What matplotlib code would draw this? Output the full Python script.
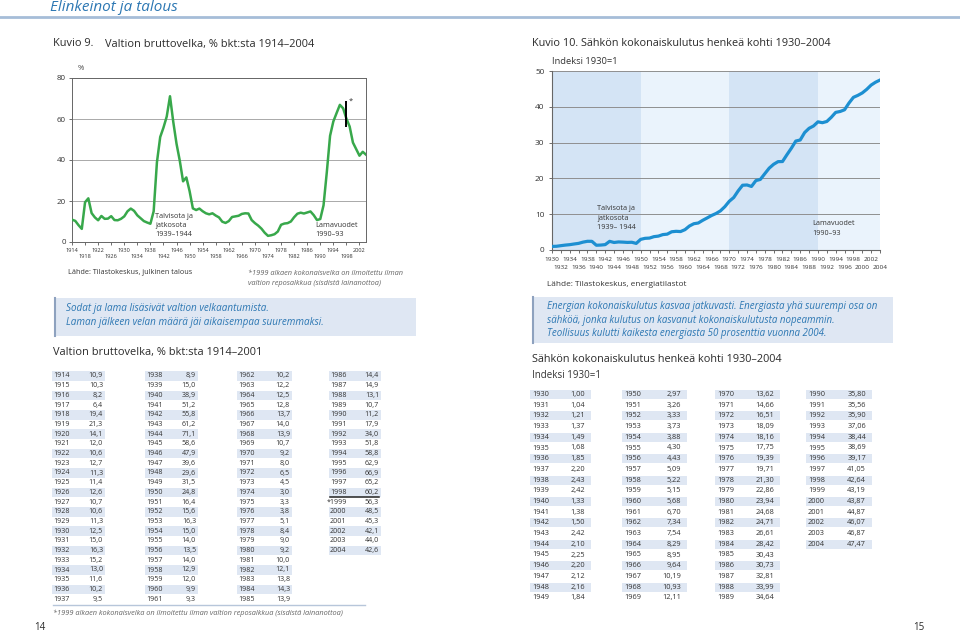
import matplotlib
matplotlib.use('Agg')
import matplotlib.pyplot as plt
from matplotlib.patches import Rectangle
from matplotlib.lines import Line2D

plt.rcParams['font.family'] = ['Open Sans', 'DejaVu Sans']

# ---------------- data ----------------
debt_years = list(range(1914, 2005))
debt_values = [10.9, 10.3, 8.2, 6.4, 19.4, 21.3, 14.1, 12.0, 10.6, 12.7, 11.3, 11.4,
               12.6, 10.7, 10.6, 11.3, 12.5, 15.0, 16.3, 15.2, 13.0, 11.6, 10.2, 9.5,
               8.9, 15.0, 38.9, 51.2, 55.8, 61.2, 71.1, 58.6, 47.9, 39.6, 29.6, 31.5,
               24.8, 16.4, 15.6, 16.3, 15.0, 14.0, 13.5, 14.0, 12.9, 12.0, 9.9, 9.3,
               10.2, 12.2, 12.5, 12.8, 13.7, 14.0, 13.9, 10.7, 9.2, 8.0, 6.5, 4.5,
               3.0, 3.3, 3.8, 5.1, 8.4, 9.0, 9.2, 10.0, 12.1, 13.8, 14.3, 13.9,
               14.4, 14.9, 13.1, 10.7, 11.2, 17.9, 34.0, 51.8, 58.8, 62.9, 66.9, 65.2,
               60.2, 56.3, 48.5, 45.3, 42.1, 44.0, 42.6]

elec_years = list(range(1930, 2005))
elec_values = [1.00, 1.04, 1.21, 1.37, 1.49, 1.68, 1.85, 2.20, 2.43, 2.42,
               1.33, 1.38, 1.50, 2.42, 2.10, 2.25, 2.20, 2.12, 2.16, 1.84,
               2.97, 3.26, 3.33, 3.73, 3.88, 4.30, 4.43, 5.09, 5.22, 5.15,
               5.68, 6.70, 7.34, 7.54, 8.29, 8.95, 9.64, 10.19, 10.93, 12.11,
               13.62, 14.66, 16.51, 18.09, 18.16, 17.75, 19.39, 19.71, 21.30, 22.86,
               23.94, 24.68, 24.71, 26.61, 28.42, 30.43, 30.73, 32.81, 33.99, 34.64,
               35.80, 35.56, 35.90, 37.06, 38.44, 38.69, 39.17, 41.05, 42.64, 43.19,
               43.87, 44.87, 46.07, 46.87, 47.47]

debt_xticks_row1 = list(range(1914, 2003, 8))
debt_xticks_row2 = list(range(1918, 2003, 8))
debt_yticks = [0, 20, 40, 60, 80]
elec_xticks_row1 = list(range(1930, 2003, 4))
elec_xticks_row2 = list(range(1932, 2005, 4))
elec_yticks = [0, 10, 20, 30, 40, 50]
elec_periods = [(1930, 1950), (1950, 1970), (1970, 1990), (1990, 2004)]
debt_break_year = 1998
debt_break_range = (56, 69)

debt_table_cols = [(1914, 1937), (1938, 1961), (1962, 1985), (1986, 2004)]
elec_table_cols = [(1930, 1949), (1950, 1969), (1970, 1989), (1990, 2004)]

# ---------------- helpers ----------------
W, H = 960, 633
fig = plt.figure(figsize=(9.6, 6.33), dpi=100)
fig.patch.set_facecolor('white')
renderer = fig.canvas.get_renderer()


def fx(x):
    return x / W


def fy(y):
    return 1 - y / H


def fit(s, target_px, **kw):
    """font size (pt) so that string s is target_px wide"""
    t = fig.text(0, 0, s, fontsize=10, **kw)
    w = t.get_window_extent(renderer).width
    t.remove()
    return 10 * target_px / w


def txt(x, y, s, **kw):
    kw.setdefault('va', 'center')
    kw.setdefault('ha', 'left')
    return fig.text(fx(x), fy(y), s, **kw)


def rect(x0, y0, x1, y1, **kw):
    fig.add_artist(Rectangle((fx(x0), fy(y1)), fx(x1) - fx(x0), fy(y0) - fy(y1),
                             transform=fig.transFigure, **kw))


def hline(x0, x1, y, **kw):
    fig.add_artist(Line2D([fx(x0), fx(x1)], [fy(y), fy(y)], transform=fig.transFigure, **kw))


def vline(x, y0, y1, **kw):
    fig.add_artist(Line2D([fx(x), fx(x)], [fy(y0), fy(y1)], transform=fig.transFigure, **kw))


BLUE_TXT = '#2c77b3'
DARK = '#2b2b2b'
TXT = '#333333'
GRAY = '#666666'
SHADE = '#dfe7f3'

# ---------------- header ----------------
s = 'Elinkeinot ja talous'
txt(50, 7.5, s, fontsize=fit(s, 127, style='italic'), style='italic', color=BLUE_TXT)
hline(0, 960, 16.5, color='#a6bdd8', lw=2)

s = 'Valtion bruttovelka, % bkt:sta 1914\u20132004'
fs_title = fit(s, 208)
txt(53, 44, 'Kuvio 9.', fontsize=fs_title, color=DARK)
txt(105, 44, s, fontsize=fs_title, color=DARK)
s = 'Kuvio 10. S\u00e4hk\u00f6n kokonaiskulutus henke\u00e4 kohti 1930\u20132004'
txt(532, 44, s, fontsize=fit(s, 299), color=DARK)

fs_ann = fit('Lamavuodet', 42)

# ---------------- left chart ----------------
ax1 = fig.add_axes([fx(72), fy(242), fx(366) - fx(72), fy(78) - fy(242)])
ax1.plot(debt_years, debt_values, color='#38a84b', lw=1.8, zorder=3)
ax1.vlines(debt_break_year, *debt_break_range, color='black', lw=1.4, zorder=4)
ax1.set_xlim(1914, 2004)
ax1.set_ylim(0, 80)
ax1.set_yticks(debt_yticks)
ax1.set_yticklabels([str(v) for v in debt_yticks])
ax1.set_xticks(debt_xticks_row1, [str(v) for v in debt_xticks_row1])
ax1.set_xticks(debt_xticks_row2, [str(v) for v in debt_xticks_row2], minor=True)
ax1.tick_params(axis='x', which='both', length=2.5, width=0.6, colors='#555555',
                labelsize=fit('1914', 13), labelcolor=TXT)
ax1.tick_params(axis='x', which='major', pad=1.5)
ax1.tick_params(axis='x', which='minor', pad=6.3)
ax1.tick_params(axis='y', length=2.5, width=0.6, pad=2, labelsize=fit('80', 9),
                colors='#555555', labelcolor=TXT)
ax1.grid(axis='y', color='#a9a9a9', lw=0.7)
for sp in ax1.spines.values():
    sp.set_color('#666666')
    sp.set_linewidth(0.7)

txt(78, 68, '%', fontsize=5.5, color='#444444')
txt(349, 101, '*', fontsize=5.5, color=TXT)
for i, line in enumerate(['Talvisota ja', 'jatkosota', '1939\u20131944']):
    txt(155, 217 + i * 8.6, line, fontsize=fs_ann, color=TXT)
for i, line in enumerate(['Lamavuodet', '1990\u201393']):
    txt(315, 225.5 + i * 8.6, line, fontsize=fs_ann, color=TXT)
s = 'L\u00e4hde: Tilastokeskus, julkinen talous'
txt(68, 272, s, fontsize=fit(s, 123), color=TXT)
s = '*1999 alkaen kokonaisvelka on ilmoitettu ilman'
fs_fn = fit(s, 156, style='italic')
txt(248, 274, s, fontsize=fs_fn, style='italic', color=GRAY)
txt(248, 283.5, 'valtion reposalkkua (sisdist\u00e4 lainanottoa)', fontsize=fs_fn,
    style='italic', color=GRAY)

# ---------------- right chart ----------------
ax2 = fig.add_axes([fx(552), fy(250), fx(880) - fx(552), fy(71) - fy(250)])
for i, (a, b) in enumerate(elec_periods):
    ax2.axvspan(a, b, color='#d4e4f5' if i % 2 == 0 else '#eaf3fc', lw=0, zorder=0)
ax2.plot(elec_years, elec_values, color='#1d8fd1', lw=2.3, zorder=3)
ax2.set_xlim(1930, 2004)
ax2.set_ylim(0, 50)
ax2.set_yticks(elec_yticks)
ax2.set_yticklabels([str(v) for v in elec_yticks])
ax2.set_xticks(elec_xticks_row1, [str(v) for v in elec_xticks_row1])
ax2.set_xticks(elec_xticks_row2, [str(v) for v in elec_xticks_row2], minor=True)
ax2.tick_params(axis='x', which='both', length=2.5, width=0.6, colors='#555555',
                labelsize=fit('1930', 14.5), labelcolor=TXT)
ax2.tick_params(axis='x', which='major', pad=2.5)
ax2.tick_params(axis='x', which='minor', pad=8.5)
ax2.tick_params(axis='y', length=2.5, width=0.6, pad=3, labelsize=fit('50', 9.5),
                colors='#555555', labelcolor=TXT)
ax2.grid(axis='y', color='#8f8f8f', lw=0.7, zorder=1)
ax2.spines['top'].set_visible(False)
ax2.spines['right'].set_visible(False)
for sp in ('left', 'bottom'):
    ax2.spines[sp].set_color('#666666')
    ax2.spines[sp].set_linewidth(0.8)

s = 'Indeksi 1930=1'
txt(552, 62, s, fontsize=fit(s, 66), color=TXT)
for i, line in enumerate(['Talvisota ja', 'jatkosota', '1939\u2013 1944']):
    txt(597, 209 + i * 9.5, line, fontsize=fs_ann, color=TXT)
for i, line in enumerate(['Lamavuodet', '1990\u201393']):
    txt(812, 224 + i * 9.5, line, fontsize=fs_ann, color=TXT)
s = 'L\u00e4hde: Tilastokeskus, energiatilastot'
txt(547, 284, s, fontsize=fit(s, 139), color=TXT)

# ---------------- text boxes ----------------
rect(54, 298, 416, 336, facecolor=SHADE, edgecolor='none')
vline(54.5, 298, 336, color='#8ea2bf', lw=1.5)
s = 'Sodat ja lama lis\u00e4siv\u00e4t valtion velkaantumista.'
fs_box = fit(s, 203, style='italic')
txt(66, 309, s, fontsize=fs_box, style='italic', color=BLUE_TXT)
txt(66, 323, 'Laman j\u00e4lkeen velan m\u00e4\u00e4r\u00e4 j\u00e4i aikaisempaa suuremmaksi.',
    fontsize=fs_box, style='italic', color=BLUE_TXT)

rect(532, 297, 893, 343, facecolor=SHADE, edgecolor='none')
vline(532.5, 297, 343, color='#8ea2bf', lw=1.5)
box2 = ['Energian kokonaiskulutus kasvaa jatkuvasti. Energiasta yh\u00e4 suurempi osa on',
        's\u00e4hk\u00f6\u00e4, jonka kulutus on kasvanut kokonaiskulutusta nopeammin.',
        'Teollisuus kulutti kaikesta energiasta 50 prosenttia vuonna 2004.']
fs_box2 = fit(box2[0], 331, style='italic')
for i, line in enumerate(box2):
    txt(547, 306.5 + i * 13.5, line, fontsize=fs_box2, style='italic', color=BLUE_TXT)

# ---------------- left table ----------------
s = 'Valtion bruttovelka, % bkt:sta 1914\u20132001'
txt(53, 353, s, fontsize=fit(s, 208), color=DARK)
debt_map = dict(zip(debt_years, debt_values))
fs_t1 = fit('1914', 16.5)
t1_year_x = [53, 146, 238, 330]
t1_val_r = [103, 196, 290, 379]
t1_y0, t1_step = 376, 9.7
for c, (a, b) in enumerate(debt_table_cols):
    for r, yr in enumerate(range(a, b + 1)):
        y = t1_y0 + r * t1_step
        if r % 2 == 0:
            rect(t1_year_x[c] - 1, y - t1_step / 2, t1_val_r[c] + 2, y + t1_step / 2,
                 facecolor=SHADE, edgecolor='none')
        label = ('*' if yr == 1999 else '') + str(yr)
        txt(t1_year_x[c] - (3 if yr == 1999 else 0), y, label, fontsize=fs_t1, color=TXT)
        txt(t1_val_r[c], y, f'{debt_map[yr]:.1f}'.replace('.', ','), fontsize=fs_t1,
            color=TXT, ha='right')
        if yr == 1998:
            hline(t1_year_x[c], t1_val_r[c], y + t1_step / 2, color='#222222', lw=1.1)
hline(53, 365, 604.5, color='#b7c6da', lw=1.0)
s = ('*1999 alkaen kokonaisvelka on ilmoitettu ilman valtion reposalkkua '
     '(sisdist\u00e4 lainanottoa)')
txt(53, 613.5, s, fontsize=fit(s, 292, style='italic'), style='italic', color=GRAY)

# ---------------- right table ----------------
s = 'S\u00e4hk\u00f6n kokonaiskulutus henke\u00e4 kohti 1930\u20132004'
txt(532, 360, s, fontsize=fit(s, 249), color=DARK)
s = 'Indeksi 1930=1'
txt(532, 375.5, s, fontsize=fit(s, 69), color=TXT)
elec_map = dict(zip(elec_years, elec_values))
fs_t2 = fit('1930', 17)
t2_year_x = [532, 624, 717, 808]
t2_val_r = [585, 681, 774, 866]
t2_y0, t2_step = 394.5, 10.7
for c, (a, b) in enumerate(elec_table_cols):
    for r, yr in enumerate(range(a, b + 1)):
        y = t2_y0 + r * t2_step
        if r % 2 == 0:
            rect(t2_year_x[c] - 2, y - t2_step / 2 + 0.8, t2_val_r[c] + 6, y + t2_step / 2 - 0.8,
                 facecolor=SHADE, edgecolor='none')
        txt(t2_year_x[c], y, str(yr), fontsize=fs_t2, color=TXT)
        txt(t2_val_r[c], y, f'{elec_map[yr]:.2f}'.replace('.', ','), fontsize=fs_t2,
            color=TXT, ha='right')

# ---------------- page numbers ----------------
txt(34, 628, '14', fontsize=7, color=DARK)
txt(913, 628, '15', fontsize=7, color=DARK)

fig.savefig('out.png', dpi=100, facecolor='white')
